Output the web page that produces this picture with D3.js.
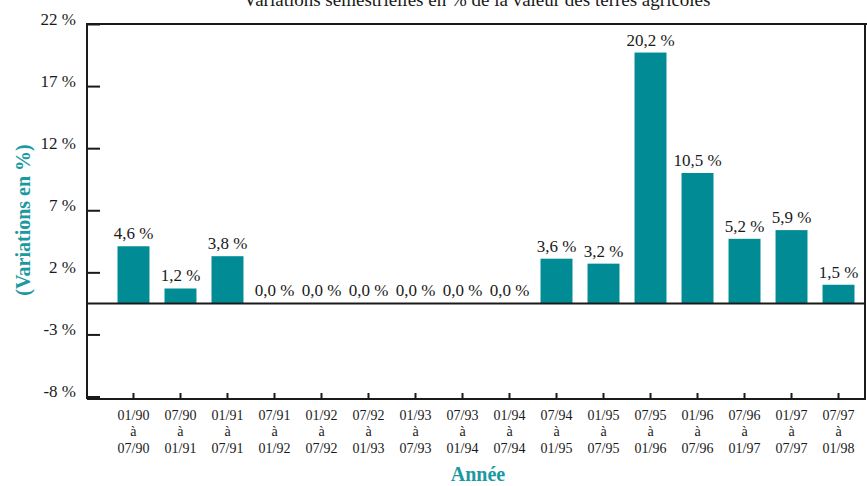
<!DOCTYPE html>
<html>
<head>
  <meta charset="utf-8">
  <script src="https://cdn.jsdelivr.net/npm/d3@7"></script>
  <style>
    * { margin: 0; padding: 0; }
    body { background: #fff; }
    svg text { font-family: "Liberation Serif", serif; fill: #1a1a1a; }
    .frame { fill: none; stroke: #1a1a1a; stroke-width: 2; }
    .axis path { stroke: #1a1a1a; stroke-width: 2; }
    .axis line { stroke: #1a1a1a; stroke-width: 2; }
    .teal { fill: #1a99a1 !important; font-weight: bold; }
  </style>
</head>
<body>
<script>
  // data
  var periodStart = ["01/90", "07/90", "01/91", "07/91", "01/92", "07/92", "01/93", "07/93",
                     "01/94", "07/94", "01/95", "07/95", "01/96", "07/96", "01/97", "07/97"];
  var periodEnd   = ["07/90", "01/91", "07/91", "01/92", "07/92", "01/93", "07/93", "01/94",
                     "07/94", "01/95", "07/95", "01/96", "07/96", "01/97", "07/97", "01/98"];
  var values = [4.6, 1.2, 3.8, 0.0, 0.0, 0.0, 0.0, 0.0, 0.0, 3.6, 3.2, 20.2, 10.5, 5.2, 5.9, 1.5];

  // y ticks sit half a unit off the labels in the original
  var yTickValues = [-7.5, -2.5, 2.5, 7.5, 12.5, 17.5, 22.5];
  var yTickLabels = ["-8 %", "-3 %", "2 %", "7 %", "12 %", "17 %", "22 %"];

  var w = 867, h = 486;
  var padLeft = 87, padRight = 865, padTop = 24, padBottom = 399;

  var svg = d3.select("body").append("svg")
    .attr("width", w)
    .attr("height", h);

  var y = d3.scaleLinear()
    .domain([-7.7, 22.5])
    .range([padBottom, padTop]);

  var x = d3.scaleBand()
    .domain(periodStart)
    .range([117.5, 854.5])
    .paddingInner(0.32)
    .paddingOuter(0);

  // title (cut at the top like the original)
  svg.append("text")
    .attr("x", 477)
    .attr("y", 6)
    .attr("text-anchor", "middle")
    .style("font-size", "19px")
    .text("Variations semestrielles en % de la valeur des terres agricoles");

  // bars
  svg.selectAll(".bar")
    .data(values)
    .enter()
    .append("rect")
    .attr("class", "bar")
    .attr("x", function(d, i) { return x(periodStart[i]); })
    .attr("width", x.bandwidth())
    .attr("y", function(d) { return y(Math.max(d, 0)); })
    .attr("height", function(d) { return Math.abs(y(d) - y(0)); })
    .attr("fill", "#008b95");

  // value labels
  var fmt = d3.format(".1f");
  svg.selectAll(".val")
    .data(values)
    .enter()
    .append("text")
    .attr("class", "val")
    .attr("x", function(d, i) { return x(periodStart[i]) + x.bandwidth() / 2; })
    .attr("y", function(d) { return y(d) - 7; })
    .attr("text-anchor", "middle")
    .style("font-size", "17px")
    .text(function(d) { return fmt(d).replace(".", ",") + " %"; });

  // y axis, ticks pointing inward
  var yAxis = svg.append("g")
    .attr("class", "axis")
    .attr("transform", "translate(" + padLeft + ",0)")
    .call(d3.axisLeft(y)
      .tickValues(yTickValues)
      .tickSize(-13)
      .tickSizeOuter(0)
      .tickPadding(11)
      .tickFormat(function(d, i) { return yTickLabels[i]; }));
  yAxis.select(".domain").remove();
  yAxis.selectAll("text")
    .attr("dy", 0)
    .style("font-size", "17px")
    .style("font-family", "Liberation Serif, serif")
    .attr("fill", "#1a1a1a");

  // x axis, short ticks pointing up, three-line labels
  var xAxis = svg.append("g")
    .attr("class", "axis")
    .attr("transform", "translate(0," + padBottom + ")")
    .call(d3.axisBottom(x).tickSize(-6).tickSizeOuter(0));
  xAxis.select(".domain").remove();
  xAxis.selectAll("text").remove();
  xAxis.selectAll(".tick").each(function(d, i) {
    var t = d3.select(this).append("text")
      .attr("text-anchor", "middle")
      .style("font-size", "14px")
      .attr("fill", "#1a1a1a");
    t.append("tspan").attr("x", 0).attr("y", 21).text(periodStart[i]);
    t.append("tspan").attr("x", 0).attr("y", 37).text("à");
    t.append("tspan").attr("x", 0).attr("y", 54).text(periodEnd[i]);
  });

  // frame and zero line
  svg.append("path")
    .attr("class", "frame")
    .attr("d", "M" + padLeft + "," + padBottom + "V" + padTop + "H" + w +
               "M" + padRight + "," + padTop + "V" + padBottom + "H" + padLeft);
  svg.append("line")
    .attr("class", "frame")
    .attr("x1", padLeft).attr("x2", padRight)
    .attr("y1", y(0)).attr("y2", y(0));

  // axis titles
  svg.append("text")
    .attr("class", "teal")
    .attr("transform", "translate(30,220) rotate(-90)")
    .attr("text-anchor", "middle")
    .style("font-size", "20px")
    .text("(Variations en %)");

  svg.append("text")
    .attr("class", "teal")
    .attr("x", 478)
    .attr("y", 481)
    .attr("text-anchor", "middle")
    .style("font-size", "20px")
    .text("Année");
</script>
</body>
</html>
